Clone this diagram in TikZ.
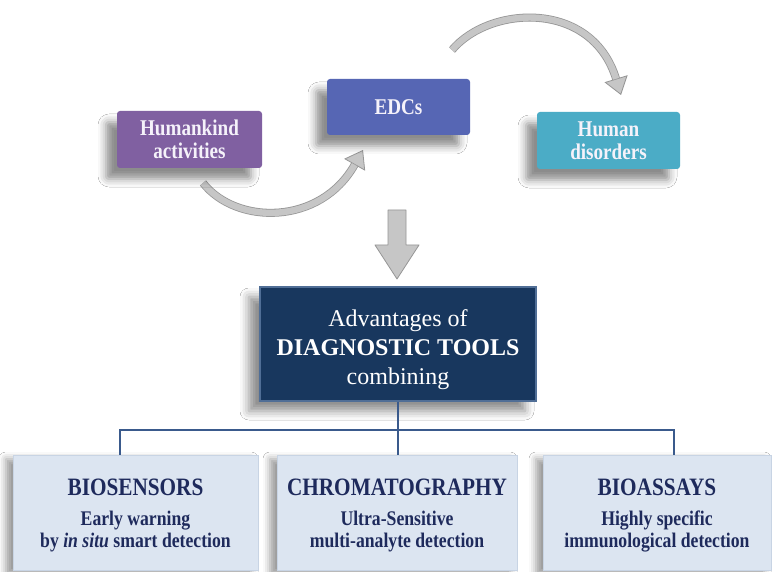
\documentclass[tikz,border=0pt]{standalone}
\usepackage{fontspec}
\setmainfont{Liberation Serif}
\newfontfamily\narrowserif{Liberation Serif}[FakeStretch=0.85]
\newcommand\tooltitlefont{\narrowserif\bfseries\fontsize{25}{26}\selectfont}
\usetikzlibrary{arrows.meta,shadows.blur}

\definecolor{humcol}{RGB}{128,96,161}
\definecolor{edccol}{RGB}{86,102,180}
\definecolor{discol}{RGB}{75,172,198}
\definecolor{navy}{RGB}{24,55,94}
\definecolor{navyedge}{RGB}{80,110,150}
\definecolor{pale}{RGB}{220,229,241}
\definecolor{paleedge}{RGB}{200,212,228}
\definecolor{inkblue}{RGB}{30,42,92}
\definecolor{busblue}{RGB}{58,90,140}
\definecolor{arrowfill}{RGB}{198,198,198}
\definecolor{arrowedge}{RGB}{150,150,150}
\definecolor{softwhite}{RGB}{245,242,250}

\tikzset{
  topbox/.style={rounded corners=3pt, text=softwhite, align=center,
    font=\narrowserif\bfseries\fontsize{22.5}{23}\selectfont,
    blur shadow={shadow xshift=-11pt, shadow yshift=-11pt, shadow blur radius=8pt, shadow opacity=45}},
  mainbox/.style={fill=navy, draw=navyedge, line width=1.5pt,
    minimum width=276pt, minimum height=114pt, inner sep=0pt,
    blur shadow={shadow xshift=-11pt, shadow yshift=-10pt, shadow blur radius=9pt, shadow opacity=45}},
  maintext/.style={text=white, align=center, font=\fontsize{24}{29}\selectfont},
  toolbox/.style={fill=pale, draw=paleedge, line width=1pt,
    minimum height=115pt, inner sep=0pt,
    blur shadow={shadow xshift=-7pt, shadow yshift=-4pt, shadow blur radius=7pt, shadow opacity=40}},
  tooltext/.style={text=inkblue, align=center,
    font=\narrowserif\bfseries\fontsize{20.8}{22}\selectfont},
  bus/.style={draw=busblue, line width=1.6pt},
  bendarrow/.style={draw=arrowedge, line width=8pt,
    -{Triangle[width=24pt,length=17pt,line width=0.8pt,fill=arrowfill]}},
  bendcore/.style={draw=arrowfill, line width=6.4pt, shorten >=17pt},
}

\begin{document}
\begin{tikzpicture}[x=1pt,y=-1pt]
\useasboundingbox (0,0) rectangle (772,572);
\fill[white] (0,0) rectangle (772,572);

% curved gray arrows of the cause chain
\draw[bendarrow] (203,183) .. controls (236,225) and (320,226) .. (363,150);
\draw[bendcore] (203,183) .. controls (236,225) and (320,226) .. (363,150);
\draw[bendarrow] (452,50) .. controls (490,5) and (592,0) .. (621,95);
\draw[bendcore] (452,50) .. controls (490,5) and (592,0) .. (621,95);

% cause chain boxes
\node[topbox, fill=humcol, minimum width=145pt, minimum height=57pt] (hum) at (189.5,139.5) {Humankind\\activities};
\node[topbox, fill=edccol, minimum width=143pt, minimum height=56pt] (edc) at (398.5,107) {EDCs};
\node[topbox, fill=discol, minimum width=143pt, minimum height=57pt] (dis) at (608.5,140.5) {Human\\disorders};

% block arrow down to the tools box
\coordinate (dtip) at (397,279);
\draw[draw=arrowedge, fill=arrowfill, line width=0.8pt, line join=round]
  (388,210) -- (406,210) -- (406,245) -- (419,245) -- (dtip) -- (375,245) -- (388,245) -- cycle;

% central box
\node[mainbox] (main) at (398,344) {};
\node[maintext] (mainlabel) at (398,350)
  {Advantages of\\ \textbf{DIAGNOSTIC TOOLS}\\combining};

% tool boxes
\node[toolbox, minimum width=245pt] (bio) at (135.5,512.5) {};
\node[toolbox, minimum width=240pt] (chr) at (397,512.5) {};
\node[toolbox, minimum width=228pt] (bas) at (657,512.5) {};
\node[tooltext] (biolabel) at (135.5,515.5)
  {{\tooltitlefont BIOSENSORS}\\[8pt]Early warning\\by \textit{in situ} smart detection};
\node[tooltext] (chrlabel) at (397,515.5)
  {{\tooltitlefont CHROMATOGRAPHY}\\[8pt]Ultra-Sensitive\\multi-analyte detection};
\node[tooltext] (baslabel) at (657,515.5)
  {{\tooltitlefont BIOASSAYS}\\[8pt]Highly specific\\immunological detection};

% branching connector
\coordinate (busL) at (120,430);
\coordinate (busR) at (674,430);
\coordinate (busM) at (main.south |- busL);
\draw[bus] (main.south) -- (busM);
\draw[bus] (bio.north -| busL) -- (busL) -- (busR) -- (bas.north -| busR);
\draw[bus] (busM) -- (chr.north -| busM);
\end{tikzpicture}
\end{document}
